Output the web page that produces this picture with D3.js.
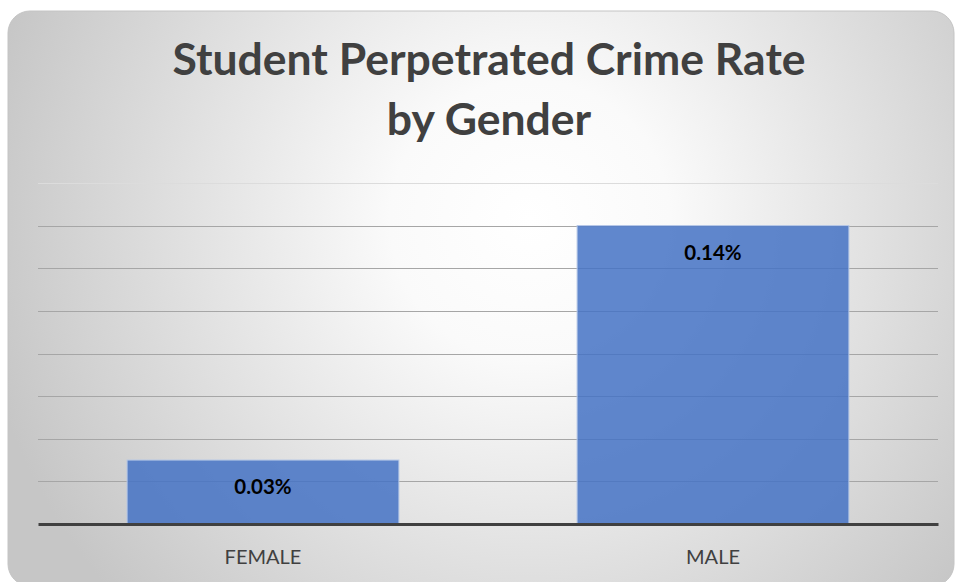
<!DOCTYPE html>
<html>
<head>
<meta charset="utf-8">
<script src="https://cdn.jsdelivr.net/npm/d3@7"></script>
<style>
  html, body { margin: 0; padding: 0; background: #ffffff; }
  svg { display: block; }
</style>
</head>
<body>
<svg id="chart" width="958" height="582"></svg>
<script>
// Chart data
const categories = ["FEMALE", "MALE"];
const rates = [0.03, 0.14];            // percent
const valueLabels = ["0.03%", "0.14%"];
const titleLines = ["Student Perpetrated Crime Rate", "by Gender"];
const yTicks = [0, 0.02, 0.04, 0.06, 0.08, 0.10, 0.12, 0.14, 0.16];

const W = 958, H = 582;
const svg = d3.select("#chart");

// Background panel with radial gradient
const defs = svg.append("defs");
const grad = defs.append("radialGradient")
  .attr("id", "bg")
  .attr("gradientUnits", "userSpaceOnUse")
  .attr("cx", 530).attr("cy", 220).attr("r", 560);
grad.append("stop").attr("offset", "0%").attr("stop-color", "#ffffff");
grad.append("stop").attr("offset", "25%").attr("stop-color", "#fafafa");
grad.append("stop").attr("offset", "100%").attr("stop-color", "#c6c6c6");

svg.append("rect")
  .attr("x", 8).attr("y", 11)
  .attr("width", 946).attr("height", 575)
  .attr("rx", 22).attr("ry", 22)
  .attr("fill", "url(#bg)")
  .attr("stroke", "#c4c4c4")
  .attr("stroke-width", 1);

// Title
const title = svg.append("text")
  .attr("text-anchor", "middle")
  .attr("font-family", "Lato, 'Open Sans', sans-serif")
  .attr("font-weight", "bold")
  .attr("font-size", 44.5)
  .attr("fill", "#404040");
titleLines.forEach((t, i) => {
  title.append("tspan")
    .attr("x", 489)
    .attr("y", 75 + i * 60)
    .text(t);
});

// Scales
const x = d3.scaleBand()
  .domain(categories)
  .range([38, 938])
  .paddingInner(0.396)
  .paddingOuter(0.198);
const y = d3.scaleLinear()
  .domain([0, 0.16])
  .range([524, 183]);

// Gridlines
svg.append("g")
  .selectAll("line")
  .data(yTicks.slice(1))
  .join("line")
  .attr("x1", 38).attr("x2", 938)
  .attr("y1", d => Math.round(y(d)) + 0.5)
  .attr("y2", d => Math.round(y(d)) + 0.5)
  .attr("stroke", d => d === 0.16 ? "#dcdcdc" : "#a6a6a6")
  .attr("stroke-width", 1);

// Bars
svg.append("g")
  .selectAll("rect")
  .data(categories)
  .join("rect")
  .attr("x", d => x(d))
  .attr("y", (d, i) => y(rates[i]))
  .attr("width", x.bandwidth())
  .attr("height", (d, i) => y(0) - y(rates[i]))
  .attr("fill", "#4472c4")
  .attr("fill-opacity", 0.85)
  .attr("stroke", "#b4c7e7")
  .attr("stroke-width", 1);

// Baseline axis
const xAxis = d3.axisBottom(x).tickSize(0).tickPadding(26);
const axisG = svg.append("g")
  .attr("transform", `translate(0,${y(0)})`)
  .call(xAxis);
axisG.select(".domain")
  .attr("stroke", "#404040")
  .attr("stroke-width", 3);
axisG.selectAll("text")
  .attr("font-family", "Lato, 'Open Sans', sans-serif")
  .attr("font-size", 20)
  .attr("fill", "#404040");

// Value labels inside bars
svg.append("g")
  .selectAll("text")
  .data(categories)
  .join("text")
  .attr("x", d => x(d) + x.bandwidth() / 2)
  .attr("y", (d, i) => y(rates[i]) + 34)
  .attr("text-anchor", "middle")
  .attr("font-family", "Lato, 'Open Sans', sans-serif")
  .attr("font-weight", "bold")
  .attr("font-size", 20.5)
  .attr("fill", "#000000")
  .text((d, i) => valueLabels[i]);
</script>
</body>
</html>
